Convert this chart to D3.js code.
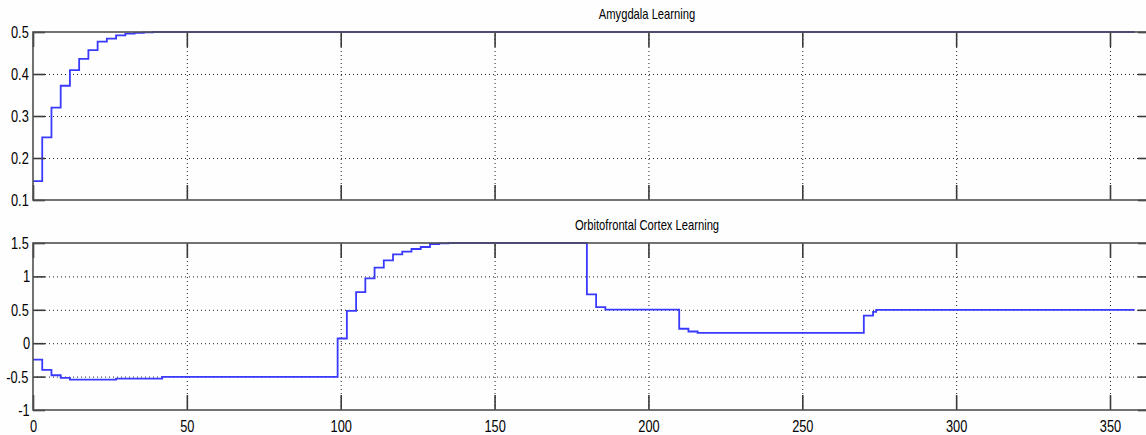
<!DOCTYPE html>
<html>
<head>
    <meta charset="utf-8">
    <title>Amygdala / Orbitofrontal Cortex Learning</title>
    <script src="https://cdn.jsdelivr.net/npm/d3@7"></script>
    <style>
        body { margin: 0; background: #fefefe; }
        svg { display: block; }
        .lbl, .ticks text {
            font-family: "Liberation Sans", Arial, sans-serif; fill: #000;
            transform-box: fill-box; transform-origin: center; transform: scaleX(0.8);
        }
        .grid line { stroke: #222; stroke-width: 1; stroke-dasharray: 1, 3; }
        .grid path { display: none; }
        .ticks line { stroke: #3a3a3a; stroke-width: 1.6; }
        .ticks path { display: none; }
        .ticks text { font-size: 16px; }
        .frame { fill: none; stroke: #505050; stroke-width: 1.6; }
        .trace { fill: none; stroke: #3a3aff; stroke-width: 1.8; }
    </style>
</head>
<body>
<script>
    // time axis
    let xTicks = [0, 50, 100, 150, 200, 250, 300, 350];
    let xMax = 363;

    // Amygdala learning (step output)
    let amygTime  = [0, 3, 6, 9, 12, 15, 18, 21, 24, 27, 30, 33, 36, 39, 358];
    let amygValue = [0.145, 0.249, 0.32, 0.372, 0.409, 0.436, 0.457, 0.477, 0.484, 0.492, 0.496, 0.498, 0.499, 0.5, 0.5];
    let amygTicks = [0.1, 0.2, 0.3, 0.4, 0.5];

    // Orbitofrontal cortex learning (step output)
    let ofcTime  = [0, 3, 6, 9, 12, 27, 42, 99, 102, 105, 108, 111, 114, 117, 120, 123, 126, 129, 132, 135,
                    180, 183, 186, 210, 213, 216, 270, 273, 274, 358];
    let ofcValue = [-0.245, -0.40, -0.48, -0.52, -0.545, -0.53, -0.505, 0.07, 0.483, 0.765, 0.97, 1.13, 1.24, 1.33, 1.37, 1.41, 1.44, 1.485, 1.495, 1.5,
                    0.73, 0.54, 0.503, 0.216, 0.175, 0.155, 0.413, 0.47, 0.5, 0.5];
    let ofcTicks = [-1, -0.5, 0, 0.5, 1, 1.5];

    let width = 1146, height = 435;
    let left = 33, right = 1150;

    let svg = d3.select("body").append("svg")
        .attr("width", width)
        .attr("height", height);

    let x = d3.scaleLinear().domain([0, xMax]).range([left, right]);

    function drawPanel(opts) {
        let y = d3.scaleLinear().domain(opts.domain).range([opts.bottom, opts.top]);
        let h = opts.bottom - opts.top;
        let g = svg.append("g");

        // dotted grid
        g.append("g").attr("class", "grid")
            .attr("transform", "translate(0," + opts.bottom + ")")
            .call(d3.axisBottom(x).tickValues(xTicks.slice(1)).tickSize(-h).tickFormat(""));
        g.append("g").attr("class", "grid")
            .attr("transform", "translate(" + left + ",0)")
            .call(d3.axisLeft(y).tickValues(opts.ticks.slice(1, -1)).tickSize(-(right - left)).tickFormat(""));

        // trace
        let data = opts.time.map(function (t, i) { return { t: t, v: opts.value[i] }; });
        let line = d3.line()
            .x(function (d) { return x(d.t); })
            .y(function (d) { return y(d.v); })
            .curve(d3.curveStepAfter);
        g.append("path").attr("class", "trace").attr("d", line(data));

        // ticks on all sides, pointing inwards
        g.append("g").attr("class", "ticks")
            .attr("transform", "translate(0," + opts.bottom + ")")
            .call(d3.axisBottom(x).tickValues(xTicks).tickSize(-15).tickPadding(22)
                .tickFormat(opts.xLabels ? d3.format("d") : ""));
        g.append("g").attr("class", "ticks")
            .attr("transform", "translate(0," + opts.top + ")")
            .call(d3.axisTop(x).tickValues(xTicks).tickSize(-15).tickFormat(""));
        g.append("g").attr("class", "ticks")
            .attr("transform", "translate(" + left + ",0)")
            .call(d3.axisLeft(y).tickValues(opts.ticks).tickSize(-12).tickPadding(2)
                .tickFormat(function (d) { return d3.format("")(d).replace("\u2212", "-"); }));
        g.append("g").attr("class", "ticks")
            .attr("transform", "translate(" + right + ",0)")
            .call(d3.axisRight(y).tickValues(opts.ticks).tickSize(-12).tickFormat(""));

        g.selectAll(".ticks text").attr("dy", null);

        g.append("rect").attr("class", "frame")
            .attr("x", left).attr("y", opts.top)
            .attr("width", right - left).attr("height", h);

        g.append("text").attr("class", "lbl")
            .attr("x", 647).attr("y", opts.top - 13)
            .attr("text-anchor", "middle")
            .attr("font-size", 14)
            .text(opts.title);
    }

    drawPanel({ title: "Amygdala Learning", top: 32, bottom: 200, domain: [0.1, 0.5],
        ticks: amygTicks, time: amygTime, value: amygValue, xLabels: false });
    drawPanel({ title: "Orbitofrontal Cortex Learning", top: 243, bottom: 410, domain: [-1, 1.5],
        ticks: ofcTicks, time: ofcTime, value: ofcValue, xLabels: true });

    // y labels: centre on their tick
    svg.selectAll(".ticks text").each(function () {
        let t = d3.select(this);
        if (t.attr("y") === null || +t.attr("y") === 0) t.attr("dominant-baseline", "central");
    });
</script>
</body>
</html>
